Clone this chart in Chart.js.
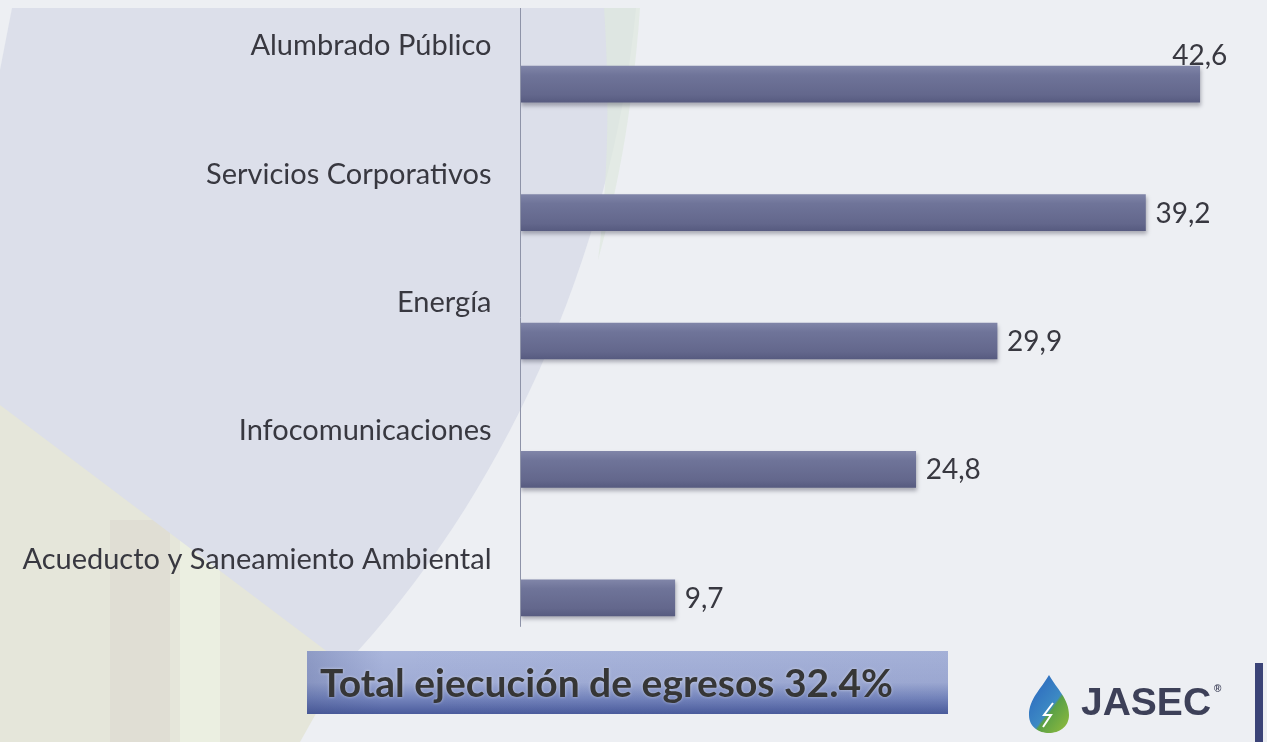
<!DOCTYPE html>
<html>
<head>
<meta charset="utf-8">
<script src="https://cdn.jsdelivr.net/npm/chart.js@4/dist/chart.umd.min.js"></script>
<style>
html,body{margin:0;padding:0;background:#edeff3;}
#wrap{position:relative;width:1267px;height:742px;overflow:hidden;}
canvas{display:block;}
</style>
</head>
<body>
<div id="wrap"><canvas id="c" width="1267" height="742"></canvas></div>
<script>
const categories = ["Alumbrado Público","Servicios Corporativos","Energía","Infocomunicaciones","Acueducto y Saneamiento Ambiental"];
const values = [42.6, 39.2, 29.9, 24.8, 9.7];
const valueLabels = ["42,6","39,2","29,9","24,8","9,7"];
const totalText = "Total ejecución de egresos 32.4%";
const brandText = "JASEC";

const FONT = "Lato, 'Open Sans', sans-serif";

const backgroundPlugin = {
  id: 'bg',
  beforeDraw(chart){
    const ctx = chart.ctx;
    const W = chart.width, H = chart.height;
    ctx.save();
    ctx.fillStyle = '#edeff3';
    ctx.fillRect(0,0,W,H);
    ctx.fillStyle = '#e5e6da';
    ctx.beginPath();
    ctx.moveTo(0,400);
    ctx.lineTo(345,662);
    ctx.lineTo(300,742);
    ctx.lineTo(0,742);
    ctx.closePath();
    ctx.fill();
    ctx.fillStyle = 'rgba(215,205,200,0.35)';
    ctx.fillRect(110,520,60,222);
    ctx.fillStyle = 'rgba(238,242,228,0.7)';
    ctx.fillRect(180,480,40,262);
    ctx.fillStyle = '#dcdfea';
    ctx.beginPath();
    ctx.moveTo(12,8);
    ctx.lineTo(636,8);
    ctx.bezierCurveTo(612,260,500,500,345,665);
    ctx.lineTo(0,405);
    ctx.lineTo(0,70);
    ctx.closePath();
    ctx.fill();
    ctx.fillStyle = 'rgba(222,232,222,0.7)';
    ctx.beginPath();
    ctx.moveTo(604,8);
    ctx.lineTo(640,8);
    ctx.bezierCurveTo(632,120,615,200,598,260);
    ctx.bezierCurveTo(608,180,610,100,604,8);
    ctx.fill();
    ctx.restore();
  }
};

const shadowPlugin = {
  id: 'shadow',
  beforeDatasetsDraw(chart){
    const ctx = chart.ctx;
    ctx.save();
    ctx.shadowColor = 'rgba(40,40,60,0.35)';
    ctx.shadowBlur = 4;
    ctx.shadowOffsetY = 3;
    ctx.shadowOffsetX = 1;
  },
  afterDatasetsDraw(chart){
    chart.ctx.restore();
  }
};

const labelsPlugin = {
  id: 'labels',
  afterDatasetsDraw(chart){
    const ctx = chart.ctx;
    const meta = chart.getDatasetMeta(0);
    const xs = chart.scales.x, ys = chart.scales.y;
    ctx.save();
    ctx.strokeStyle = '#8e93a8';
    ctx.lineWidth = 1;
    const ax = Math.round(xs.getPixelForValue(0)) + 0.5;
    ctx.beginPath();
    ctx.moveTo(ax, 8);
    ctx.lineTo(ax, ys.getPixelForValue(categories.length-1) + 29);
    ctx.stroke();

    ctx.fillStyle = '#383840';
    ctx.font = "29px " + FONT;
    ctx.textBaseline = 'alphabetic';
    categories.forEach((c,i)=>{
      const y = ys.getPixelForValue(i);
      ctx.textAlign = 'right';
      ctx.fillText(c, ax - 29, y - 29);
    });
    ctx.font = "28px " + FONT;
    meta.data.forEach((bar,i)=>{
      const txt = valueLabels[i];
      const w = ctx.measureText(txt).width;
      const endX = bar.x;
      ctx.textBaseline = 'alphabetic';
      if (endX + 10 + w > chart.chartArea.right){
        ctx.textAlign = 'center';
        ctx.fillText(txt, endX, bar.y - bar.height/2 - 1);
      } else {
        ctx.textAlign = 'left';
        ctx.fillText(txt, endX + 10, bar.y + 10);
      }
    });
    ctx.restore();
  },
  afterDraw(chart){
    const ctx = chart.ctx;
    ctx.save();
    const bx=307, by=651, bw=641, bh=63;
    let g = ctx.createLinearGradient(0,by,0,by+bh);
    g.addColorStop(0,'#aab6dc');
    g.addColorStop(0.5,'#a0acd5');
    g.addColorStop(0.75,'#7585bd');
    g.addColorStop(1,'#4a5b9c');
    ctx.fillStyle = g;
    ctx.fillRect(bx,by,bw,bh);
    let g2 = ctx.createLinearGradient(bx,0,bx+bw,0);
    g2.addColorStop(0,'rgba(60,75,130,0.25)');
    g2.addColorStop(0.12,'rgba(60,75,130,0)');
    g2.addColorStop(1,'rgba(60,75,130,0.05)');
    ctx.fillStyle = g2;
    ctx.fillRect(bx,by,bw,bh);
    ctx.font = "bold 39px " + FONT;
    ctx.textAlign = 'left';
    ctx.textBaseline = 'alphabetic';
    ctx.shadowColor = 'rgba(255,255,255,0.5)';
    ctx.shadowBlur = 3;
    ctx.fillStyle = '#363636';
    ctx.fillText(totalText, bx+13, 697);
    ctx.shadowColor = 'transparent';

    const dx=1049, dy=675;
    ctx.beginPath();
    ctx.moveTo(dx, dy);
    ctx.bezierCurveTo(dx+8, dy+14, dx+20, dy+24, dx+20, dy+40);
    ctx.bezierCurveTo(dx+20, dy+52, dx+10, dy+58, dx, dy+58);
    ctx.bezierCurveTo(dx-10, dy+58, dx-20, dy+52, dx-20, dy+40);
    ctx.bezierCurveTo(dx-20, dy+24, dx-8, dy+14, dx, dy);
    ctx.closePath();
    let lg = ctx.createLinearGradient(dx-20,dy+20,dx+20,dy+50);
    lg.addColorStop(0,'#2f6fc0');
    lg.addColorStop(0.5,'#3d8ac4');
    lg.addColorStop(0.55,'#5aa046');
    lg.addColorStop(1,'#8ab83e');
    ctx.fillStyle = lg;
    ctx.fill();
    ctx.strokeStyle = '#ffffff';
    ctx.lineWidth = 2;
    ctx.beginPath();
    ctx.moveTo(dx+4, dy+28);
    ctx.lineTo(dx-5, dy+40);
    ctx.lineTo(dx+2, dy+40);
    ctx.lineTo(dx-6, dy+52);
    ctx.stroke();
    ctx.fillStyle = '#3d4058';
    ctx.font = "bold 39px 'Liberation Sans', Arial, sans-serif";
    ctx.textAlign = 'left';
    ctx.textBaseline = 'alphabetic';
    ctx.fillText(brandText, 1081, 715);
    ctx.font = "bold 10px 'Liberation Sans', Arial, sans-serif";
    ctx.fillText("®", 1214, 692);
    ctx.fillStyle = '#3b4377';
    ctx.fillRect(1255,663,8,79);
    ctx.restore();
  }
};

new Chart(document.getElementById('c'), {
  type: 'bar',
  data: {
    labels: categories,
    datasets: [{
      data: values,
      barThickness: 36,
      borderWidth: 0,
      backgroundColor(ctx){
        const chart = ctx.chart;
        const ys = chart.scales.y;
        if (!chart.chartArea || !ys || ctx.dataIndex === undefined) return '#6c7195';
        const y = ys.getPixelForValue(ctx.dataIndex);
        if (!isFinite(y)) return '#6c7195';
        const g = chart.ctx.createLinearGradient(0, y-18, 0, y+18);
        g.addColorStop(0,'#8085a8');
        g.addColorStop(0.25,'#6f7499');
        g.addColorStop(0.8,'#63678c');
        g.addColorStop(1,'#575b80');
        return g;
      }
    }]
  },
  options: {
    indexAxis: 'y',
    responsive: false,
    animation: false,
    layout: { padding: { left: 520, right: 29, top: 20, bottom: 80 } },
    plugins: { legend: { display: false }, tooltip: { enabled: false } },
    scales: {
      x: { display: false, min: 0, max: 45 },
      y: { display: false }
    }
  },
  plugins: [backgroundPlugin, shadowPlugin, labelsPlugin]
});
</script>
</body>
</html>
